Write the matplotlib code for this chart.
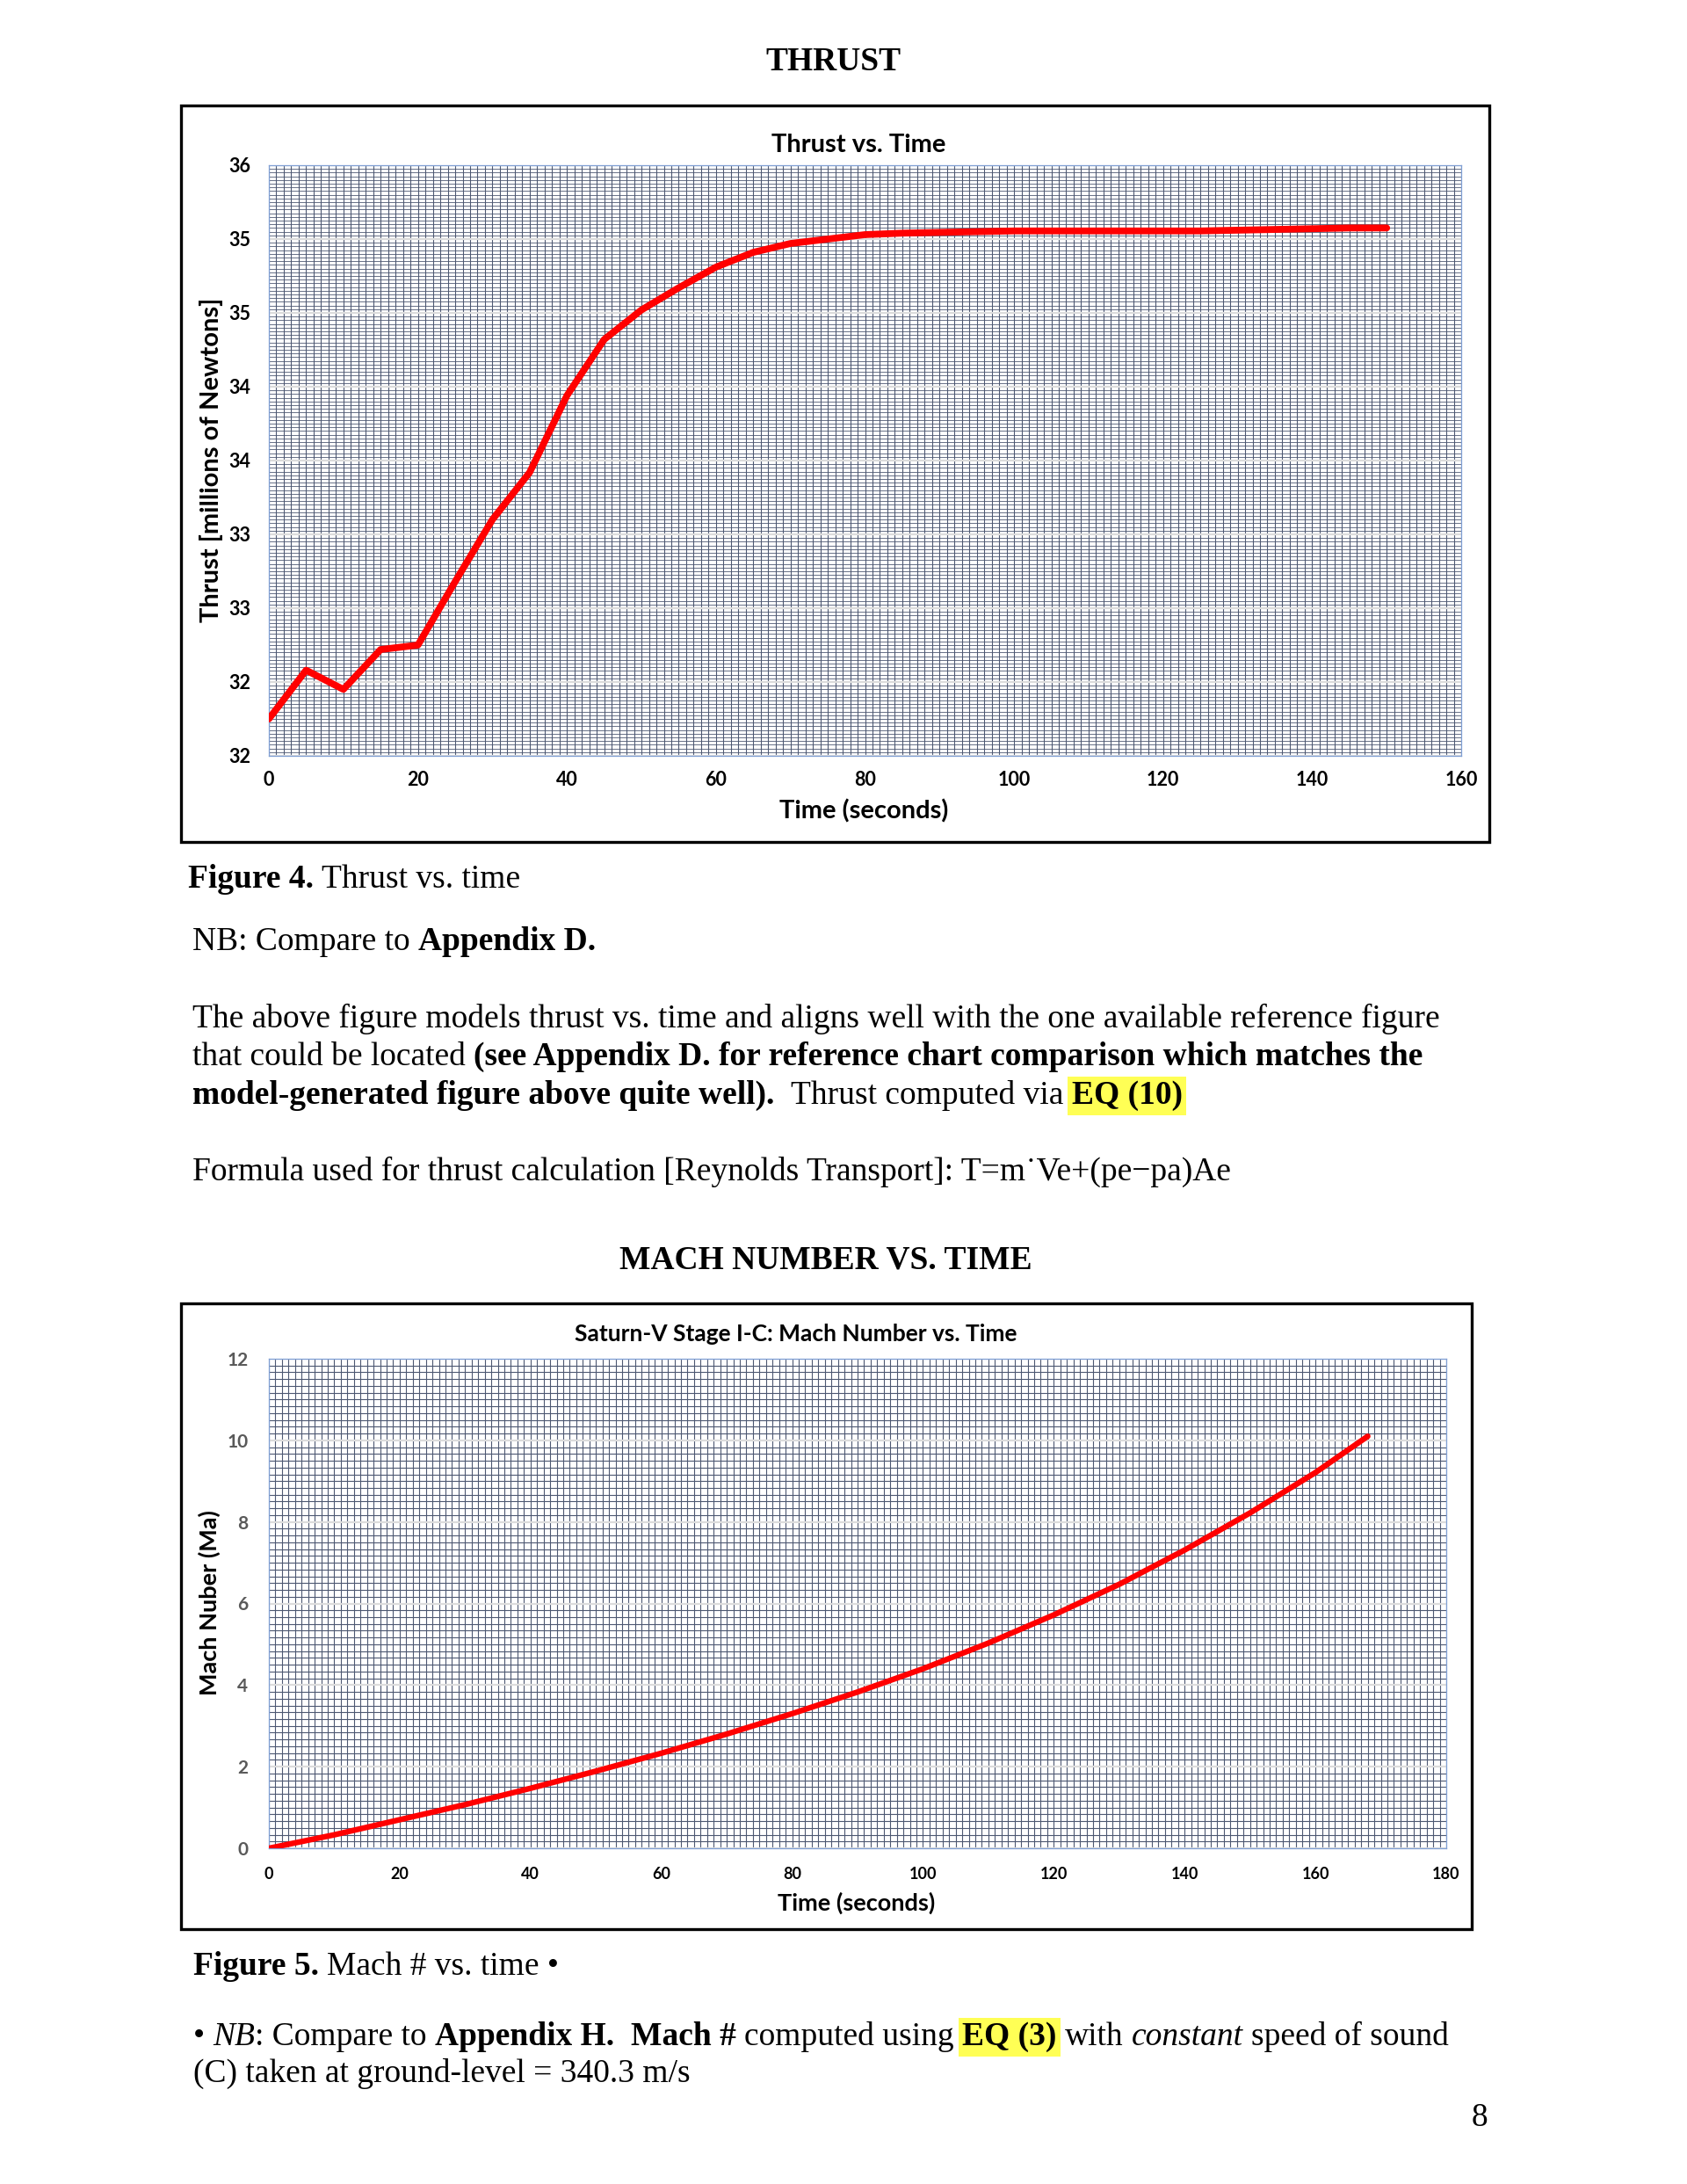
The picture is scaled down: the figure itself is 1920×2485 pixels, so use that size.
import numpy as np
import matplotlib
matplotlib.use("Agg")
import matplotlib.pyplot as plt
from matplotlib.ticker import MultipleLocator
from matplotlib.patches import Rectangle

# ---------------- data ----------------
thrust_time = [0, 5, 10, 15, 20, 25, 30, 35, 40, 45, 50, 55, 60, 65, 70, 75,
               80, 85, 90, 95, 100, 105, 110, 115, 120, 125, 130, 135, 140, 145, 150]
thrust_mn = [32.25, 32.58, 32.45, 32.72, 32.75, 33.18, 33.60, 33.92, 34.44, 34.82,
             35.02, 35.17, 35.31, 35.41, 35.47, 35.50, 35.53, 35.54, 35.545, 35.55,
             35.555, 35.555, 35.555, 35.555, 35.555, 35.555, 35.56, 35.565, 35.57,
             35.575, 35.575]
thrust_xticks = [0, 20, 40, 60, 80, 100, 120, 140, 160]
thrust_yticks = [32.0, 32.5, 33.0, 33.5, 34.0, 34.5, 35.0, 35.5, 36.0]
thrust_ylabels = ["32", "32", "33", "33", "34", "34", "35", "35", "36"]

mach_time = [0, 10, 20, 30, 40, 50, 60, 70, 80, 90, 100, 110, 120, 130, 140, 150, 160, 168]
mach_num = [0.0, 0.33, 0.70, 1.07, 1.47, 1.89, 2.33, 2.80, 3.30, 3.83, 4.40, 5.03,
            5.72, 6.47, 7.31, 8.22, 9.21, 10.10]
mach_xticks = [0, 20, 40, 60, 80, 100, 120, 140, 160, 180]
mach_yticks = [0, 2, 4, 6, 8, 10, 12]

# ---------------- style ----------------
W, H = 1920, 2485
DPI = 100
SERIF = ['Liberation Serif', 'DejaVu Serif']
SANS = ['Lato', 'DejaVu Sans']
HL = '#ffff55'
RED = '#ff0000'
MINOR = '#4d5872'
BODY = 27

fig = plt.figure(figsize=(W / DPI, H / DPI), dpi=DPI)
fig.patch.set_facecolor('white')


def fx(x):
    return x / W


def fy(y):
    return 1 - y / H


def frame(x0, y0, x1, y1):
    fig.patches.append(Rectangle((fx(x0), fy(y1)), fx(x1) - fx(x0), fy(y0) - fy(y1),
                                 transform=fig.transFigure, fill=False,
                                 ec='black', lw=2.4, zorder=0))


def make_axes(l, t, r, b, xmin, xmax, ymin, ymax, xminor, yminor, ylw=0.8):
    ax = fig.add_axes([fx(l), fy(b), fx(r) - fx(l), fy(t) - fy(b)])
    ax.set_xlim(xmin, xmax)
    ax.set_ylim(ymin, ymax)
    ax.xaxis.set_minor_locator(MultipleLocator(xminor))
    ax.yaxis.set_minor_locator(MultipleLocator(yminor))
    ax.grid(which='minor', axis='x', color=MINOR, lw=0.8)
    ax.grid(which='minor', axis='y', color=MINOR, lw=ylw)
    ax.grid(which='major', axis='x', color=MINOR, lw=0.8)
    ax.grid(which='major', axis='y', color='#dcdcdc', lw=1.6)
    ax.set_axisbelow(True)
    for s in ax.spines.values():
        s.set_color('#7f9fd4')
        s.set_linewidth(0.9)
    ax.tick_params(which='both', length=0)
    return ax


# ---------------- thrust chart ----------------
frame(206, 120, 1695, 958)
ax1 = make_axes(306, 188, 1663, 860, 0, 160, 32, 36, 1, 0.025, ylw=0.6)
ax1.plot(thrust_time, thrust_mn, color=RED, lw=5.6, solid_joinstyle='round',
         solid_capstyle='round', zorder=3)
ax1.set_xticks(thrust_xticks)
ax1.set_xticklabels([str(v) for v in thrust_xticks], family=SANS, weight='bold',
                    fontsize=15.5, color='black')
ax1.set_yticks(thrust_yticks)
ax1.set_yticklabels(thrust_ylabels, family=SANS, weight='bold', fontsize=15.5,
                    color='black')
ax1.tick_params(axis='x', pad=12)
ax1.tick_params(axis='y', pad=15)
fig.text(fx(977), fy(165), "Thrust vs. Time", family=SANS, weight='bold',
         fontsize=21, ha='center', va='center')
fig.text(fx(983), fy(923), "Time (seconds)", family=SANS, weight='bold',
         fontsize=21, ha='center', va='center')
fig.text(fx(241), fy(523), "Thrust [millions of Newtons]", family=SANS,
         weight='bold', fontsize=21, ha='center', va='center', rotation=90)

# ---------------- mach chart ----------------
frame(206, 1483, 1675, 2195)
ax2 = make_axes(306, 1546, 1646, 2103, 0, 180, 0, 12, 1, 1 / 6)
ax2.plot(mach_time, mach_num, color=RED, lw=4.6, solid_joinstyle='round',
         solid_capstyle='round', zorder=3)
ax2.set_xticks(mach_xticks)
ax2.set_xticklabels([str(v) for v in mach_xticks], family=SANS, weight='bold',
                    fontsize=13, color='black')
ax2.set_yticks(mach_yticks)
ax2.set_yticklabels([str(v) for v in mach_yticks], family=SANS, weight='bold',
                    fontsize=15, color='#595959')
ax2.tick_params(axis='x', pad=15)
ax2.tick_params(axis='y', pad=17)
fig.text(fx(906), fy(1518), "Saturn-V Stage I-C: Mach Number vs. Time",
         family=SANS, weight='bold', fontsize=19, ha='center', va='center')
fig.text(fx(975), fy(2165), "Time (seconds)", family=SANS, weight='bold',
         fontsize=19.5, ha='center', va='center')
fig.text(fx(238), fy(1824), "Mach Nuber (Ma)", family=SANS, weight='bold',
         fontsize=19.5, ha='center', va='center', rotation=90)

# ---------------- document text ----------------
renderer = fig.canvas.get_renderer()


def width_of(s, weight='normal', style='normal', size=BODY):
    t = fig.text(0, 0, s, family=SERIF, weight=weight, style=style, fontsize=size)
    w = t.get_window_extent(renderer=renderer).width
    t.remove()
    return w


def space_w(weight='normal', style='normal', size=BODY):
    return width_of("x x", weight, style, size) - width_of("xx", weight, style, size)


def rich(x, y, parts, size=BODY):
    """parts: list of (text, weight, style, highlight); text may start/end with spaces."""
    cx = x
    for txt, weight, style, hl in parts:
        sw = space_w(weight, style, size)
        core = txt.strip(' ')
        if not core:
            cx += len(txt) * sw
            continue
        lead = len(txt) - len(txt.lstrip(' '))
        trail = len(txt) - len(txt.rstrip(' '))
        cx += lead * sw
        kw = {}
        if hl:
            kw['bbox'] = dict(boxstyle='square,pad=0.12', fc=HL, ec='none')
        t = fig.text(fx(cx), fy(y), core, family=SERIF, weight=weight,
                     style=style, fontsize=size, ha='left', va='baseline', **kw)
        cx += t.get_window_extent(renderer=renderer).width
        cx += trail * sw


N, B, I = 'normal', 'bold', 'italic'

fig.text(fx(948), fy(80), "THRUST", family=SERIF, weight='bold', fontsize=BODY,
         ha='center', va='baseline')
rich(214, 1010, [("Figure 4.", B, N, False), (" Thrust vs. time", N, N, False)])
rich(219, 1081, [("NB: Compare to ", N, N, False), ("Appendix D.", B, N, False)])
rich(219, 1169, [("The above figure models thrust vs. time and aligns well with the one "
                  "available reference figure", N, N, False)])
rich(219, 1212, [("that could be located ", N, N, False),
                 ("(see Appendix D. for reference chart comparison which matches the",
                  B, N, False)])
rich(219, 1256, [("model-generated figure above quite well).", B, N, False),
                 ("  Thrust computed via ", N, N, False),
                 ("EQ (10)", B, N, True)])
rich(219, 1343, [("Formula used for thrust calculation [Reynolds Transport]: "
                  "T=m\u02d9Ve+(pe\u2212pa)Ae", N, N, False)])

fig.text(fx(940), fy(1443), "MACH NUMBER VS. TIME", family=SERIF, weight='bold',
         fontsize=BODY, ha='center', va='baseline')
rich(220, 2247, [("Figure 5.", B, N, False), (" Mach # vs. time \u2022", N, N, False)])
rich(220, 2327, [("\u2022 ", N, N, False), ("NB", N, I, False),
                 (": Compare to ", N, N, False), ("Appendix H.", B, N, False),
                 ("  ", N, N, False), ("Mach #", B, N, False),
                 (" computed using ", N, N, False), ("EQ (3)", B, N, True),
                 (" with ", N, N, False), ("constant", N, I, False),
                 (" speed of sound", N, N, False)])
rich(220, 2369, [("(C) taken at ground-level = 340.3 m/s", N, N, False)])
fig.text(fx(1684), fy(2419), "8", family=SERIF, fontsize=BODY, ha='center',
         va='baseline')

fig.savefig("out.png", dpi=DPI, facecolor='white')
